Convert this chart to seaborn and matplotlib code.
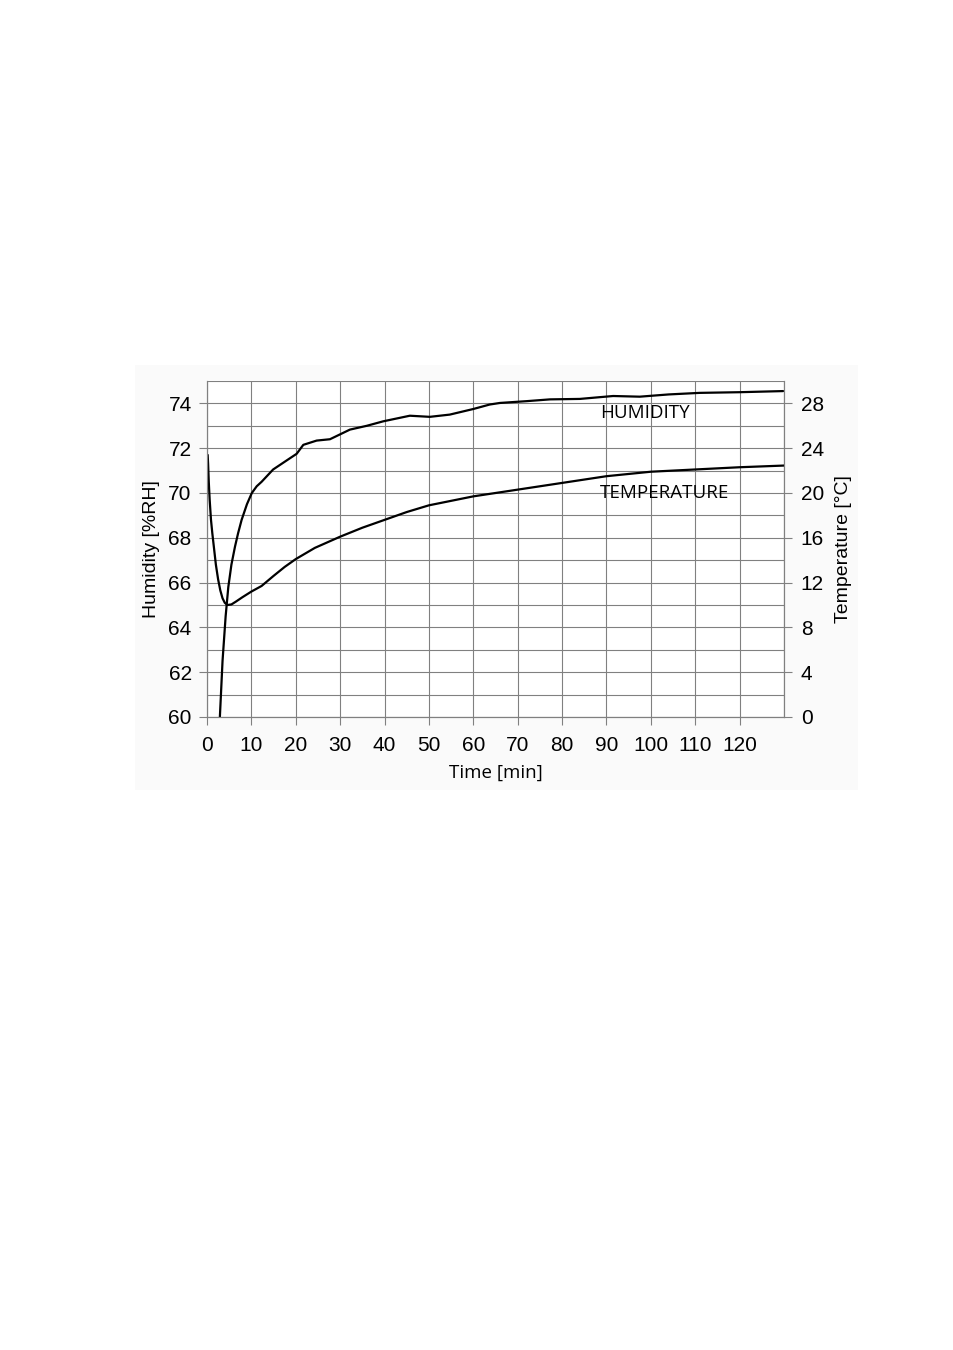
import numpy as np
import pandas as pd
import matplotlib
matplotlib.use("Agg")
import matplotlib.pyplot as plt
from matplotlib.patches import Rectangle
import seaborn as sns

# values
hum_time = [2.7, 2.9, 3.5, 4.2, 4.8, 5.5, 6.3, 7.0, 7.8, 9.0, 10.1, 11.2, 12.3,
            14.9, 18.3, 20.2, 21.7, 24.7, 27.7, 32.2, 36.0, 39.7, 45.7, 50.2,
            54.7, 60.0, 63.7, 66.0, 72.0, 77.3, 84.0, 91.5, 97.5, 104.0, 111.0,
            120.0, 129.8]
humidity = [59.0, 60.0, 62.5, 64.5, 65.8, 66.8, 67.6, 68.2, 68.8, 69.5, 70.0,
            70.3, 70.5, 71.05, 71.5, 71.75, 72.15, 72.34, 72.4, 72.83, 73.0,
            73.2, 73.45, 73.4, 73.5, 73.75, 73.95, 74.02, 74.1, 74.18, 74.2,
            74.33, 74.3, 74.4, 74.47, 74.5, 74.55]

temp_time = [0.15, 0.25, 0.4, 0.6, 0.9, 1.2, 1.6, 2.0, 2.5, 3.0, 3.5, 4.0, 4.6,
             5.5, 6.5, 8.0, 10.0, 12.3, 15.0, 17.5, 20.0, 24.3, 30.0, 35.0,
             40.0, 45.0, 50.0, 55.0, 60.0, 65.0, 70.0, 80.0, 90.0, 100.0,
             110.0, 120.0, 130.0]
temperature = [23.4, 22.6, 21.0, 19.4, 17.6, 16.4, 15.0, 13.6, 12.3, 11.3, 10.6,
               10.2, 10.0, 10.05, 10.3, 10.7, 11.2, 11.7, 12.6, 13.4, 14.1, 15.1,
               16.1, 16.9, 17.6, 18.3, 18.9, 19.3, 19.7, 20.0, 20.3, 20.9, 21.5,
               21.9, 22.1, 22.3, 22.45]

x_ticks = list(range(0, 121, 10))
hum_ticks = list(range(60, 75, 2))
temp_ticks = list(range(0, 29, 4))

hum_df = pd.DataFrame({"time": hum_time, "humidity": humidity})
temp_df = pd.DataFrame({"time": temp_time, "temperature": temperature})

sns.set_style("white")
plt.rcParams["font.family"] = ["Liberation Sans", "DejaVu Sans"]
plt.rcParams["text.color"] = "black"
plt.rcParams["axes.labelcolor"] = "black"
plt.rcParams["xtick.labelcolor"] = "black"
plt.rcParams["ytick.labelcolor"] = "black"

fig = plt.figure(figsize=(9.54, 13.5), dpi=100)
fig.patches.append(Rectangle((135 / 954, 1 - 790 / 1350), 723 / 954, 425 / 1350,
                             transform=fig.transFigure, facecolor="#fafafa",
                             edgecolor="none", zorder=-10))
ax = fig.add_axes([207 / 954, 1 - 717 / 1350, 577 / 954, 336 / 1350])
ax.set_facecolor("white")
ax2 = ax.twinx()

sns.lineplot(data=hum_df, x="time", y="humidity", ax=ax, color="black",
             linewidth=1.6, estimator=None, sort=False)
sns.lineplot(data=temp_df, x="time", y="temperature", ax=ax2, color="black",
             linewidth=1.6, estimator=None, sort=False)

ax.set_xlim(0, 130)
ax.set_ylim(60, 75)
ax2.set_ylim(0, 30)

ax.set_xticks(x_ticks)
ax.set_xticks([130], minor=True)
ax.set_yticks(hum_ticks)
ax.set_yticks(range(61, 76), minor=True)
ax2.set_yticks(temp_ticks)

ax.grid(True, which="both", color="#808080", linewidth=0.8)
ax2.grid(False)
ax.set_axisbelow(True)

for a in (ax, ax2):
    for s in a.spines.values():
        s.set_color("#808080")
        s.set_linewidth(0.8)
ax.spines["top"].set_visible(False)
ax2.spines["top"].set_visible(False)

ax.tick_params(axis="both", which="major", length=6, color="#808080",
               labelcolor="black", labelsize=15, direction="out",
               bottom=True, left=True)
ax.tick_params(axis="x", pad=8)
ax.tick_params(axis="y", pad=5)
ax.tick_params(axis="both", which="minor", length=0)
ax2.tick_params(axis="y", length=6, color="#808080", labelcolor="black",
                labelsize=15, pad=6, direction="out", right=True)

ax.set_xlabel("Time [min]", fontsize=13.5, family=["Open Sans", "DejaVu Sans"],
              labelpad=6, color="black")
ax.set_ylabel("Humidity [%RH]", fontsize=14, labelpad=6, color="black")
ax2.set_ylabel("Temperature [°C]", fontsize=14, labelpad=8, color="black")

ax.text(88.5, 73.55, "HUMIDITY", fontsize=13.5, va="center", ha="left",
        color="black", family=["Open Sans", "DejaVu Sans"])
ax.text(88.5, 70.0, "TEMPERATURE", fontsize=13.5, va="center", ha="left",
        color="black", family=["Open Sans", "DejaVu Sans"])

fig.savefig("out.png", dpi=100)
